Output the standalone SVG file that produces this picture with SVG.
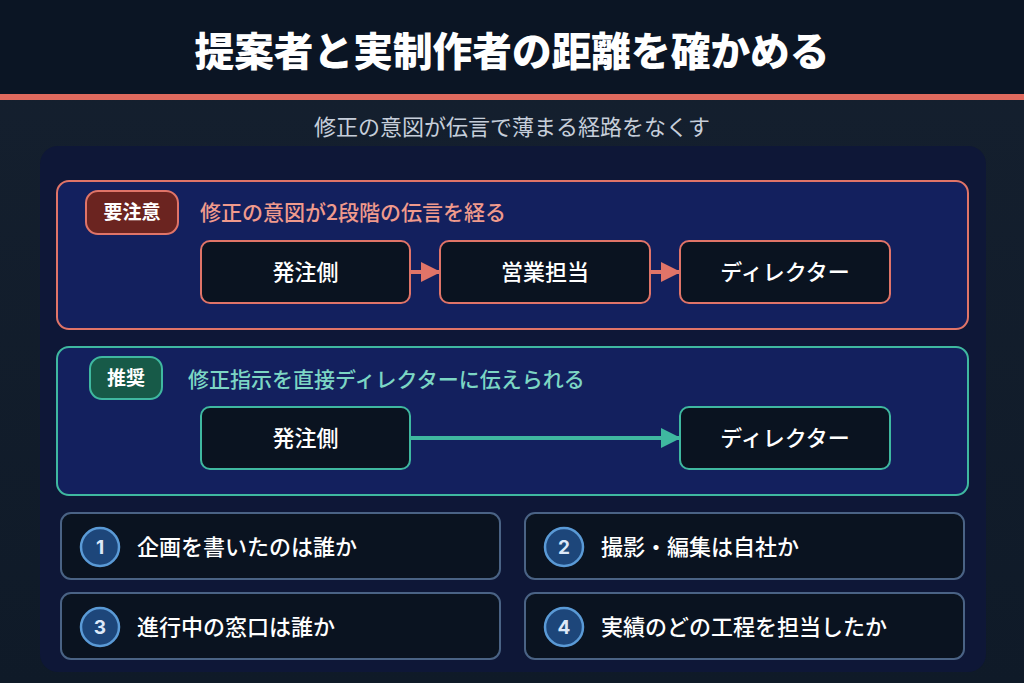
<svg xmlns="http://www.w3.org/2000/svg" width="1024" height="683" viewBox="0 0 1024 683">
<defs>
<linearGradient id="bg" x1="0" y1="0" x2="0" y2="1">
<stop offset="0" stop-color="#15202f"/>
<stop offset="1" stop-color="#0f1a28"/>
</linearGradient>
<marker id="ar" viewBox="0 0 10 10" refX="9" refY="5" markerWidth="5" markerHeight="5" orient="auto" markerUnits="strokeWidth">
<path d="M0,0 L10,5 L0,10 z" fill="#e07468"/>
</marker>
<marker id="ag" viewBox="0 0 10 10" refX="9" refY="5" markerWidth="5" markerHeight="5" orient="auto" markerUnits="strokeWidth">
<path d="M0,0 L10,5 L0,10 z" fill="#3fb8a0"/>
</marker>
</defs>
<style>
text{font-family:"Noto Sans CJK JP","Noto Sans",sans-serif}
.title{font-size:40px;font-weight:900;fill:#ffffff}
.sub{font-size:22px;fill:#c6ceda}
.grpR{fill:#13205e;stroke:#e07468;stroke-width:2}
.grpG{fill:#13205e;stroke:#3fb8a0;stroke-width:2}
.nodeR{fill:#0a1320;stroke:#e07468;stroke-width:2}
.nodeG{fill:#0a1320;stroke:#3fb8a0;stroke-width:2}
.nt{font-size:22px;fill:#ffffff;font-weight:500;text-anchor:middle}
.badge{font-size:19px;font-weight:700;fill:#ffffff;text-anchor:middle}
.card{fill:#0a1320;stroke:#4a6385;stroke-width:2}
.num{fill:#1d467a;stroke:#5a9ad6;stroke-width:2.5}
.nt2{font-size:19px;font-weight:700;fill:#dce8f8;text-anchor:middle;font-family:"Inter","Noto Sans",sans-serif}
.ct{font-size:22px;fill:#ffffff;font-weight:500}
</style>
<rect width="1024" height="683" fill="url(#bg)"/>
<rect width="1024" height="95" fill="#0b1524"/>
<rect y="94" width="1024" height="6" fill="#e06a5e"/>
<text class="title" x="512" y="66" text-anchor="middle" textLength="635" lengthAdjust="spacingAndGlyphs">提案者と実制作者の距離を確かめる</text>
<text class="sub" x="512" y="135" text-anchor="middle">修正の意図が伝言で薄まる経路をなくす</text>
<rect x="40" y="146" width="946" height="526" rx="18" fill="#0e1737"/>

<g id="caution">
<rect class="grpR" x="57" y="181" width="911" height="148" rx="12"/>
<rect x="86" y="191" width="92" height="43" rx="12" fill="#6b2420" stroke="#e07468" stroke-width="2"/>
<text class="badge" x="132" y="219">要注意</text>
<text x="200" y="220" font-size="21" fill="#f09a8c" font-weight="500">修正の意図が2段階の伝言を経る</text>
</g>
<g id="c-client"><rect class="nodeR" x="201" y="241" width="209" height="62" rx="9"/><text class="nt" x="305.5" y="280">発注側</text></g>
<g id="c-sales"><rect class="nodeR" x="440" y="241" width="210" height="62" rx="9"/><text class="nt" x="545" y="280">営業担当</text></g>
<g id="c-director"><rect class="nodeR" x="680" y="241" width="210" height="62" rx="9"/><text class="nt" x="785" y="280">ディレクター</text></g>

<g id="recommended">
<rect class="grpG" x="57" y="347" width="911" height="148" rx="12"/>
<rect x="90" y="357" width="72" height="42" rx="12" fill="#175a48" stroke="#3fb8a0" stroke-width="2"/>
<text class="badge" x="126" y="385">推奨</text>
<text x="188" y="387" font-size="21" fill="#7cd6c4" font-weight="500">修正指示を直接ディレクターに伝えられる</text>
</g>
<g id="r-client"><rect class="nodeG" x="201" y="407" width="209" height="62" rx="9"/><text class="nt" x="305.5" y="446">発注側</text></g>
<g id="r-director"><rect class="nodeG" x="680" y="407" width="210" height="62" rx="9"/><text class="nt" x="785" y="446">ディレクター</text></g>

<g id="connectors">
<line x1="411" y1="272" x2="439" y2="272" stroke="#e07468" stroke-width="4" marker-end="url(#ar)"/>
<line x1="651" y1="272" x2="679" y2="272" stroke="#e07468" stroke-width="4" marker-end="url(#ar)"/>
<line x1="411" y1="438" x2="679" y2="438" stroke="#3fb8a0" stroke-width="4" marker-end="url(#ag)"/>
</g>

<g id="q1"><rect class="card" x="61" y="513" width="439" height="66" rx="10"/><circle class="num" cx="100" cy="547" r="19"/><text class="nt2" x="100" y="554">1</text><text class="ct" x="137" y="555">企画を書いたのは誰か</text></g>
<g id="q2"><rect class="card" x="525" y="513" width="439" height="66" rx="10"/><circle class="num" cx="564" cy="547" r="19"/><text class="nt2" x="564" y="554">2</text><text class="ct" x="601" y="555">撮影・編集は自社か</text></g>
<g id="q3"><rect class="card" x="61" y="593" width="439" height="66" rx="10"/><circle class="num" cx="100" cy="627" r="19"/><text class="nt2" x="100" y="634">3</text><text class="ct" x="137" y="635">進行中の窓口は誰か</text></g>
<g id="q4"><rect class="card" x="525" y="593" width="439" height="66" rx="10"/><circle class="num" cx="564" cy="627" r="19"/><text class="nt2" x="564" y="634">4</text><text class="ct" x="601" y="635">実績のどの工程を担当したか</text></g>
</svg>
